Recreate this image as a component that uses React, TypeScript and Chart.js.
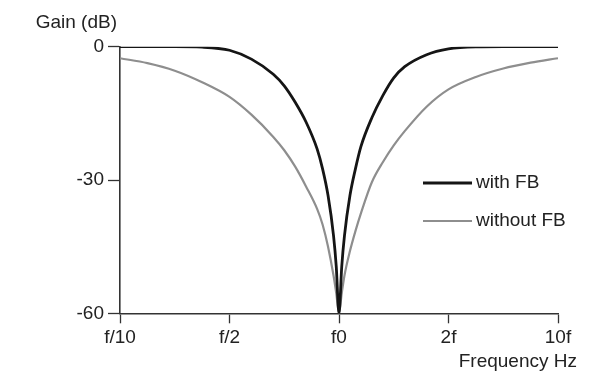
import React, { useEffect, useRef } from "react";
import { Chart, registerables } from "chart.js";

Chart.register(...registerables);

// Frequency positions (axis units: -2=f/10, -1=f/2, 0=f0, 1=2f, 2=10f)
const freqPos = [-2, -1.75, -1.5, -1.25, -1, -0.8, -0.6, -0.5, -0.4, -0.3, -0.2, -0.15, -0.1, -0.05, -0.025, 0, 0.025, 0.05, 0.1, 0.15, 0.2, 0.3, 0.4, 0.5, 0.6, 0.8, 1, 1.25, 1.5, 1.75, 2];
const withFB = [0, 0, 0, -0.1, -0.8, -2.8, -6.2, -8.8, -12.5, -17, -23, -27.5, -33.5, -42.5, -49.5, -60, -49.5, -42.5, -33.5, -27.5, -22.5, -16, -11, -7, -4.5, -1.8, -0.5, -0.05, 0, 0, 0];
const withoutFB = [-2.6, -3.7, -5.4, -8, -11.3, -15.3, -20.3, -23.3, -27, -31.5, -36.5, -40, -45, -51.5, -55.5, -60, -55.5, -51.5, -46, -41.5, -37.5, -30.5, -26, -22.2, -19, -13.5, -9.6, -6.8, -4.9, -3.6, -2.6];
const xTickLabels = ["f/10", "f/2", "f0", "2f", "10f"];
const yTicks = [0, -30, -60];
const seriesNames = ["with FB", "without FB"];
const yTitle = "Gain (dB)";
const xTitle = "Frequency Hz";

const FONT = "'Liberation Sans', Arial, Helvetica, sans-serif";
const TEXT = "#222";
const AXIS = "#333";

const overlayPlugin = {
  id: "overlay",
  afterDraw(chart: any) {
    const { ctx, chartArea } = chart;
    ctx.save();
    ctx.fillStyle = TEXT;
    ctx.font = `19px ${FONT}`;
    ctx.textBaseline = "middle";
    // y title
    ctx.textAlign = "right";
    ctx.fillText(yTitle, chartArea.left - 3, chartArea.top - 24);
    // x title
    ctx.fillText(xTitle, chartArea.right + 19, chartArea.bottom + 48.7);
    // legend
    const ds = chart.data.datasets;
    const x0 = chartArea.right - 135;
    const x1 = x0 + 49;
    const ys = [chartArea.top + 136.3, chartArea.top + 174.3];
    ds.forEach((d: any, i: number) => {
      ctx.strokeStyle = d.borderColor;
      ctx.lineWidth = d.borderWidth;
      ctx.beginPath();
      ctx.moveTo(x0, ys[i]);
      ctx.lineTo(x1, ys[i]);
      ctx.stroke();
      ctx.textAlign = "left";
      ctx.fillStyle = TEXT;
      ctx.fillText(d.label, x1 + 4, ys[i]);
    });
    ctx.restore();
  },
};

export default function App() {
  const ref = useRef<HTMLCanvasElement>(null);
  useEffect(() => {
    if (!ref.current) return;
    Chart.defaults.font.family = FONT;
    Chart.defaults.font.size = 19;
    Chart.defaults.color = TEXT;
    const chart = new Chart(ref.current, {
      type: "line",
      data: {
        datasets: [
          {
            label: seriesNames[0],
            data: freqPos.map((x, i) => ({ x, y: withFB[i] })),
            borderColor: "#151515",
            borderWidth: 2.8,
            pointRadius: 0,
            cubicInterpolationMode: "monotone",
            fill: false,
          },
          {
            label: seriesNames[1],
            data: freqPos.map((x, i) => ({ x, y: withoutFB[i] })),
            borderColor: "#8e8e8e",
            borderWidth: 2.2,
            pointRadius: 0,
            cubicInterpolationMode: "monotone",
            fill: false,
          },
        ],
      },
      options: {
        animation: false,
        responsive: false,
        devicePixelRatio: 1,
        layout: { padding: { left: 0, right: 26, top: 38.7, bottom: 0 } },
        plugins: {
          legend: { display: false },
          tooltip: { enabled: false },
          title: { display: false },
        },
        scales: {
          x: {
            type: "linear",
            min: -2,
            max: 2,
            afterFit: (s: any) => {
              s.height = 60.7;
            },
            afterBuildTicks: (s: any) => {
              s.ticks = xTickLabels.map((_, i) => ({ value: i - 2 }));
            },
            ticks: {
              padding: 3,
              maxRotation: 0,
              autoSkip: false,
              color: TEXT,
              font: { size: 19, family: FONT },
              callback: (v: any) => xTickLabels[Math.round(Number(v)) + 2] ?? "",
            },
            grid: {
              display: true,
              drawOnChartArea: false,
              drawTicks: true,
              tickLength: 10,
              tickColor: AXIS,
              tickWidth: 1.3,
            },
            border: { display: true, color: AXIS, width: 1.6 },
          },
          y: {
            type: "linear",
            min: -60,
            max: 0,
            afterFit: (s: any) => {
              s.width = 112;
            },
            afterBuildTicks: (s: any) => {
              s.ticks = yTicks.map((v) => ({ value: v }));
            },
            ticks: {
              padding: 4,
              color: TEXT,
              font: { size: 19, family: FONT },
              callback: (v: any) => String(v),
            },
            grid: {
              display: true,
              drawOnChartArea: false,
              drawTicks: true,
              tickLength: 12,
              tickColor: AXIS,
              tickWidth: 1.3,
            },
            border: { display: true, color: AXIS, width: 1.6 },
          },
        },
      },
      plugins: [overlayPlugin],
    } as any);
    return () => chart.destroy();
  }, []);
  return (
    <div style={{ width: 576, height: 366 }}>
      <canvas ref={ref} width={576} height={366} style={{ display: "block" }} />
    </div>
  );
}
